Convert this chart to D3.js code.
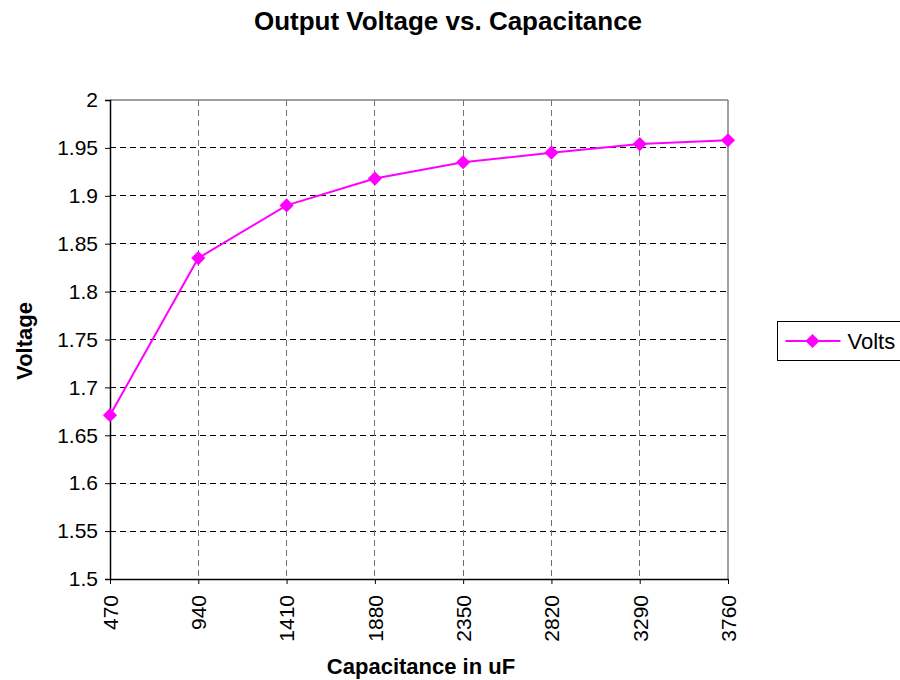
<!DOCTYPE html>
<html>
<head>
<meta charset="utf-8">
<script src="https://cdn.jsdelivr.net/npm/d3@7"></script>
<style>
  body { margin: 0; background: #fff; }
  svg { font-family: "Liberation Sans", Arial, sans-serif; }
</style>
</head>
<body>
<div id="chart"></div>
<script>
// chart data
const capacitance = ["470", "940", "1410", "1880", "2350", "2820", "3290", "3760"];
const volts = [1.671, 1.835, 1.890, 1.918, 1.935, 1.945, 1.954, 1.958];
const yTicks = [1.5, 1.55, 1.6, 1.65, 1.7, 1.75, 1.8, 1.85, 1.9, 1.95, 2];

const margin = {top: 100, right: 172, bottom: 101, left: 110},
  width = 900 - margin.left - margin.right,
  height = 680 - margin.top - margin.bottom;

const root = d3.select("#chart")
  .append("svg")
  .attr("width", 900)
  .attr("height", 680);

const svg = root.append("g")
  .attr("transform", `translate(${margin.left},${margin.top})`);

// scales
const x = d3.scalePoint()
  .domain(capacitance)
  .range([0, width]);

const y = d3.scaleLinear()
  .domain([1.5, 2])
  .range([height, 0]);

// grid
svg.append("g")
  .selectAll("line")
  .data(yTicks.slice(1, -1))
  .join("line")
  .attr("x1", 0).attr("x2", width)
  .attr("y1", d => y(d)).attr("y2", d => y(d))
  .attr("stroke", "#000")
  .attr("stroke-width", 1)
  .attr("stroke-dasharray", "6,4")
  .attr("shape-rendering", "crispEdges");

svg.append("g")
  .selectAll("line")
  .data(capacitance.slice(1, -1))
  .join("line")
  .attr("x1", d => x(d)).attr("x2", d => x(d))
  .attr("y1", 0).attr("y2", height)
  .attr("stroke", "#707070")
  .attr("stroke-width", 1)
  .attr("stroke-dasharray", "6,4")
  .attr("shape-rendering", "crispEdges");

// frame: top and right grey
svg.append("line")
  .attr("x1", 0).attr("x2", width).attr("y1", 0).attr("y2", 0)
  .attr("stroke", "#808080").attr("stroke-width", 1.5);
svg.append("line")
  .attr("x1", width).attr("x2", width).attr("y1", 0).attr("y2", height)
  .attr("stroke", "#808080").attr("stroke-width", 1.5);

// Y axis
const yAxis = svg.append("g")
  .call(d3.axisLeft(y).tickValues(yTicks).tickFormat(d3.format("")).tickSize(5).tickPadding(7));
yAxis.select(".domain").attr("stroke", "#000").attr("stroke-width", 1.5);
yAxis.selectAll("text").style("font-size", "21px").attr("fill", "#000");

// X axis
const xAxis = svg.append("g")
  .attr("transform", `translate(0, ${height})`)
  .call(d3.axisBottom(x).tickSize(5).tickSizeOuter(0));
xAxis.select(".domain").attr("stroke", "#000").attr("stroke-width", 1.5);
xAxis.selectAll("text")
  .style("font-size", "21px")
  .style("text-anchor", "end")
  .attr("fill", "#000")
  .attr("transform", "rotate(-90)")
  .attr("x", -16)
  .attr("y", 0)
  .attr("dy", "0.35em");

// line
svg.append("path")
  .datum(volts)
  .attr("fill", "none")
  .attr("stroke", "#ff00ff")
  .attr("stroke-width", 2)
  .attr("d", d3.line().x((d, i) => x(capacitance[i])).y(d => y(d)));

// markers (square turned 45 degrees = diamond)
const diamond = d3.symbol().type(d3.symbolSquare).size(100);
svg.append("g")
  .selectAll("path")
  .data(volts)
  .join("path")
  .attr("d", diamond)
  .attr("transform", (d, i) => `translate(${x(capacitance[i])},${y(d)}) rotate(45)`)
  .attr("fill", "#ff00ff");

// titles
root.append("text")
  .attr("x", 448).attr("y", 30)
  .attr("text-anchor", "middle")
  .style("font-size", "26px").style("font-weight", "bold")
  .text("Output Voltage vs. Capacitance");

root.append("text")
  .attr("x", 421).attr("y", 674)
  .attr("text-anchor", "middle")
  .style("font-size", "22px").style("font-weight", "bold")
  .text("Capacitance in uF");

root.append("text")
  .attr("transform", `translate(32, 341) rotate(-90)`)
  .attr("text-anchor", "middle")
  .style("font-size", "22px").style("font-weight", "bold")
  .text("Voltage");

// legend
const legend = root.append("g").attr("transform", "translate(777.5, 321.5)");
legend.append("rect")
  .attr("width", 130).attr("height", 39)
  .attr("fill", "#fff").attr("stroke", "#000").attr("stroke-width", 1);
legend.append("line")
  .attr("x1", 8).attr("x2", 63).attr("y1", 19.5).attr("y2", 19.5)
  .attr("stroke", "#ff00ff").attr("stroke-width", 2);
legend.append("path")
  .attr("d", diamond)
  .attr("transform", "translate(35,19.5) rotate(45)")
  .attr("fill", "#ff00ff");
legend.append("text")
  .attr("x", 70).attr("y", 27)
  .style("font-size", "22px")
  .text("Volts");
</script>
</body>
</html>
